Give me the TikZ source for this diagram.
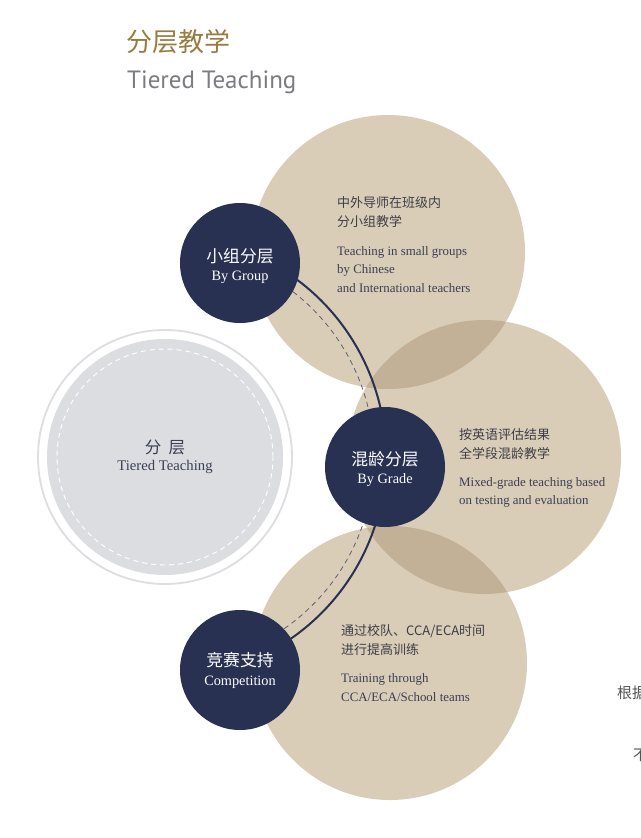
\documentclass[tikz,border=0pt]{standalone}
\usepackage{fontspec}
\setmainfont{Liberation Serif}
\newfontfamily\cjk{Noto Sans CJK SC}
\newfontfamily\titlesans{PT Sans}
\definecolor{beige}{HTML}{D9CDB7}
\definecolor{overlap}{HTML}{C2B196}
\definecolor{navy}{HTML}{283152}
\definecolor{textdark}{HTML}{3A3F55}
\definecolor{cjkdark}{HTML}{3E3E48}
\definecolor{gold}{HTML}{9A7B3F}
\definecolor{titlegray}{HTML}{7B7C80}
\definecolor{grayfill}{HTML}{DCDDE0}
\definecolor{ringgray}{HTML}{DEDEE1}
\definecolor{dashnavy}{HTML}{5A5F75}
\definecolor{sidegray}{HTML}{555555}
\tikzset{
  navydot/.style={circle, fill=navy, minimum size=120pt, inner sep=0pt},
  cjkwhite/.style={text=white, font=\cjk\fontsize{16.8}{18}\selectfont, inner sep=0pt},
  enwhite/.style={text=white, font=\fontsize{14.3}{16}\selectfont, inner sep=0pt},
  cjkline/.style={anchor=west, text=cjkdark, font=\cjk\fontsize{13}{15}\selectfont, inner sep=0pt},
  enline/.style={anchor=west, text=textdark, font=\fontsize{12.9}{15}\selectfont, inner sep=0pt},
}
\begin{document}
\begin{tikzpicture}[x=1pt,y=-1pt]
\useasboundingbox (0,0) rectangle (640,838);
\clip (0,0) rectangle (640,838);
\fill[white] (0,0) rectangle (640,838);
% named centres
\coordinate (ctop) at (388,252);
\coordinate (cmid) at (484,457);
\coordinate (cbot) at (390,663);
\coordinate (cgray) at (165,457);
% beige circles
\fill[beige] (ctop) circle (137pt);
\fill[beige] (cmid) circle (137pt);
\fill[beige] (cbot) circle (137pt);
\begin{scope}
  \clip (ctop) circle (137pt);
  \fill[overlap] (cmid) circle (137pt);
\end{scope}
\begin{scope}
  \clip (cbot) circle (137pt);
  \fill[overlap] (cmid) circle (137pt);
\end{scope}
% grey circle
\draw[ringgray, line width=1.8pt] (cgray) circle (127pt);
\fill[grayfill] (cgray) circle (118pt);
\draw[white, line width=0.9pt, dash pattern=on 5pt off 4pt] (cgray) circle (108pt);
\node[text=textdark, font=\cjk\fontsize{16.5}{18}\selectfont, inner sep=0pt] (gcjk) at (165,447) {分\hspace{0.45em}层};
\node[text=textdark, font=\fontsize{14.7}{16}\selectfont, inner sep=0pt] (gen) at (165,467) {Tiered Teaching};
% arcs
\draw[dashnavy, line width=0.8pt, dash pattern=on 5pt off 4pt] (cgray) ++(72:209pt) arc[start angle=72, end angle=-70, radius=209pt];
\draw[navy, line width=2pt] (cgray) ++(72:221pt) arc[start angle=72, end angle=-72, radius=221pt];
% navy circles
\node[navydot] (grp) at (240,263) {};
\node[navydot] (grd) at (385,467) {};
\node[navydot] (cmp) at (240,670) {};
\node[cjkwhite] (grpc) at (240,256) {小组分层};
\node[enwhite] (grpe) at (240,277) {By Group};
\node[cjkwhite] (grdc) at (385,459) {混龄分层};
\node[enwhite] (grde) at (385,480) {By Grade};
\node[cjkwhite] (cmpc) at (240,660) {竞赛支持};
\node[enwhite] (cmpe) at (240,682) {Competition};
% texts in beige circles
\node[cjkline] (t1) at (337,203) {中外导师在班级内};
\node[cjkline] (t2) at (337,222) {分小组教学};
\node[enline] (t3) at (337,252) {Teaching in small groups};
\node[enline] (t4) at (337,270) {by Chinese};
\node[enline] (t5) at (337,288) {and International teachers};
\node[cjkline] (m1) at (459,435) {按英语评估结果};
\node[cjkline] (m2) at (459,454) {全学段混龄教学};
\node[enline] (m3) at (459,483) {Mixed-grade teaching based};
\node[enline] (m4) at (459,501) {on testing and evaluation};
\node[cjkline] (b1) at (341,631) {通过校队、CCA/ECA时间};
\node[cjkline] (b2) at (341,650) {进行提高训练};
\node[enline] (b3) at (341,679) {Training through};
\node[enline] (b4) at (341,697) {CCA/ECA/School teams};
% title
\node[anchor=west, text=gold, font=\cjk\fontsize{26}{28}\selectfont, inner sep=0pt] (title) at (126,42) {分层教学};
\node[anchor=west, text=titlegray, font=\titlesans\fontsize{25}{28}\selectfont, inner sep=0pt] (subtitle) at (127,82) {Tiered Teaching};
% clipped text at right edge, cut by the page edge as in the reference
\node[anchor=west, text=sidegray, font=\cjk\fontsize{15}{17}\selectfont, inner sep=0pt] (side1) at (617,693) {根据};
\node[anchor=west, text=sidegray, font=\cjk\fontsize{15}{17}\selectfont, inner sep=0pt] (side2) at (633,755) {不};
\end{tikzpicture}
\end{document}
